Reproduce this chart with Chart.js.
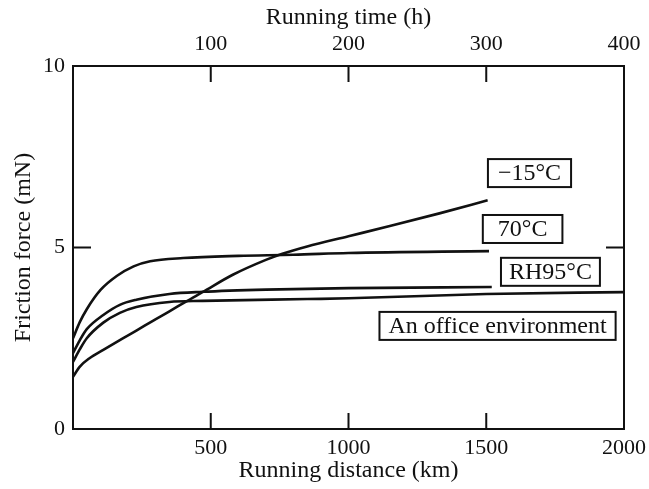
<!DOCTYPE html>
<html>
<head>
<meta charset="utf-8">
<script src="https://cdn.jsdelivr.net/npm/chart.js@4/dist/chart.umd.min.js"></script>
<style>
  html, body { margin: 0; padding: 0; background: #ffffff; }
  #wrap { width: 649px; height: 489px; }
</style>
</head>
<body>
<div id="wrap"><canvas id="c" width="649" height="489"></canvas></div>
<script>
// Running distance (km) and friction force (mN) for each test condition
const distMinus15 = [0, 25, 60, 110, 170, 230, 290, 350, 410, 470, 580, 700, 760, 850, 1000, 1150, 1330, 1505];
const forceMinus15 = [1.44, 1.72, 1.95, 2.18, 2.45, 2.71, 2.98, 3.24, 3.51, 3.77, 4.25, 4.66, 4.83, 5.03, 5.31, 5.59, 5.94, 6.3];

const dist70 = [0, 25, 50, 100, 160, 220, 280, 400, 600, 800, 1000, 1510];
const force70 = [2.5, 2.95, 3.3, 3.83, 4.22, 4.48, 4.62, 4.71, 4.77, 4.8, 4.85, 4.9];

const distRH95 = [0, 25, 50, 110, 170, 230, 350, 470, 700, 1000, 1520];
const forceRH95 = [2.09, 2.45, 2.75, 3.14, 3.42, 3.56, 3.72, 3.78, 3.84, 3.88, 3.91];

const distOffice = [0, 25, 50, 110, 170, 230, 350, 470, 850, 1000, 1500, 2000];
const forceOffice = [1.85, 2.2, 2.5, 2.93, 3.2, 3.36, 3.5, 3.53, 3.58, 3.6, 3.72, 3.77];

// Axis ticks
const distanceTicks = [500, 1000, 1500, 2000];
const timeTicks = [100, 200, 300, 400];
const forceTicks = [0, 5, 10];

// Curve labels: text and the data position of each box centre
const labelTexts = ['\u221215\u00B0C', '70\u00B0C', 'RH95\u00B0C', 'An office environment'];
const labelDist = [1657, 1632, 1733, 1541];
const labelForce = [7.05, 5.51, 4.33, 2.84];

const SERIF = '"Liberation Serif", "Times New Roman", serif';
const INK = '#111111';

function toPoints(xs, ys) { return xs.map((x, i) => ({ x: x, y: ys[i] })); }

function series(label, xs, ys) {
  return {
    label: label,
    data: toPoints(xs, ys),
    showLine: true,
    borderColor: INK,
    borderWidth: 2.6,
    pointRadius: 0,
    cubicInterpolationMode: 'monotone',
    fill: false
  };
}

const plainNumber = v => String(v);

// Fixed band sizes for the horizontal axes; end labels may overhang the frame
function fitHorizontal(height) {
  return s => { s.height = height; s.paddingLeft = 0; s.paddingRight = 0; };
}

// Frame, inward tick marks and boxed curve labels
const decorations = {
  id: 'decorations',
  beforeDraw(chart) {
    const ctx = chart.ctx;
    ctx.save();
    ctx.fillStyle = '#ffffff';
    ctx.fillRect(0, 0, chart.width, chart.height);
    ctx.restore();
  },
  afterDatasetsDraw(chart) {
    const ctx = chart.ctx;
    const a = chart.chartArea;
    const sx = chart.scales.x, sx2 = chart.scales.x2, sy = chart.scales.y;
    const tick = 16;
    ctx.save();
    ctx.strokeStyle = INK;
    ctx.lineWidth = 2;
    ctx.strokeRect(a.left, a.top, a.right - a.left, a.bottom - a.top);
    ctx.beginPath();
    distanceTicks.forEach(v => {
      if (v >= sx.max) return;
      const px = sx.getPixelForValue(v);
      ctx.moveTo(px, a.bottom); ctx.lineTo(px, a.bottom - tick);
    });
    timeTicks.forEach(v => {
      if (v >= sx2.max) return;
      const px = sx2.getPixelForValue(v);
      ctx.moveTo(px, a.top); ctx.lineTo(px, a.top + tick);
    });
    forceTicks.forEach(v => {
      if (v <= sy.min || v >= sy.max) return;
      const py = sy.getPixelForValue(v);
      ctx.moveTo(a.left, py); ctx.lineTo(a.left + tick + 2, py);
      ctx.moveTo(a.right, py); ctx.lineTo(a.right - tick - 2, py);
    });
    ctx.stroke();

    // boxed labels
    ctx.font = '24px ' + SERIF;
    ctx.textAlign = 'center';
    ctx.textBaseline = 'middle';
    const padX = [10, 15, 8, 9];
    labelTexts.forEach((t, i) => {
      const cx = sx.getPixelForValue(labelDist[i]);
      const cy = sy.getPixelForValue(labelForce[i]);
      const w = ctx.measureText(t).width + 2 * padX[i];
      const h = 28;
      ctx.fillStyle = '#ffffff';
      ctx.fillRect(cx - w / 2, cy - h / 2, w, h);
      ctx.lineWidth = 2;
      ctx.strokeRect(cx - w / 2, cy - h / 2, w, h);
      ctx.fillStyle = INK;
      ctx.fillText(t, cx, cy + 1);
    });
    ctx.restore();
  }
};

new Chart(document.getElementById('c'), {
  type: 'scatter',
  data: {
    datasets: [
      series('\u221215\u00B0C', distMinus15, forceMinus15),
      series('70\u00B0C', dist70, force70),
      series('RH95\u00B0C', distRH95, forceRH95),
      series('An office environment', distOffice, forceOffice)
    ]
  },
  options: {
    responsive: false,
    animation: false,
    devicePixelRatio: 1,
    layout: { padding: { left: 0, right: 25, top: 0, bottom: 0 } },
    plugins: { legend: { display: false }, tooltip: { enabled: false } },
    scales: {
      x: {
        type: 'linear', position: 'bottom', min: 0, max: 2000,
        afterBuildTicks: s => { s.ticks = distanceTicks.map(v => ({ value: v })); },
        afterFit: fitHorizontal(60),
        grid: { display: false, drawTicks: false },
        border: { display: false },
        ticks: { padding: 6, color: INK, font: { family: SERIF, size: 22 }, maxRotation: 0, callback: plainNumber },
        title: { display: true, text: 'Running distance (km)', color: INK,
                 font: { family: SERIF, size: 24 }, padding: { top: 0, bottom: 4 } }
      },
      x2: {
        type: 'linear', position: 'top', min: 0, max: 400,
        afterBuildTicks: s => { s.ticks = timeTicks.map(v => ({ value: v })); },
        afterFit: fitHorizontal(66),
        grid: { display: false, drawTicks: false },
        border: { display: false },
        ticks: { padding: 9, color: INK, font: { family: SERIF, size: 22 }, maxRotation: 0, callback: plainNumber },
        title: { display: true, text: 'Running time (h)', color: INK,
                 font: { family: SERIF, size: 24 }, padding: { top: 3, bottom: 0 } }
      },
      y: {
        type: 'linear', position: 'left', min: 0, max: 10,
        afterBuildTicks: s => { s.ticks = forceTicks.map(v => ({ value: v })); },
        afterFit: s => { s.width = 73; },
        grid: { display: false, drawTicks: false },
        border: { display: false },
        ticks: { padding: 8, color: INK, font: { family: SERIF, size: 22 }, callback: plainNumber },
        title: { display: true, text: 'Friction force (mN)', color: INK,
                 font: { family: SERIF, size: 24 }, padding: { top: 9, bottom: 0 } }
      }
    }
  },
  plugins: [decorations]
});
</script>
</body>
</html>
